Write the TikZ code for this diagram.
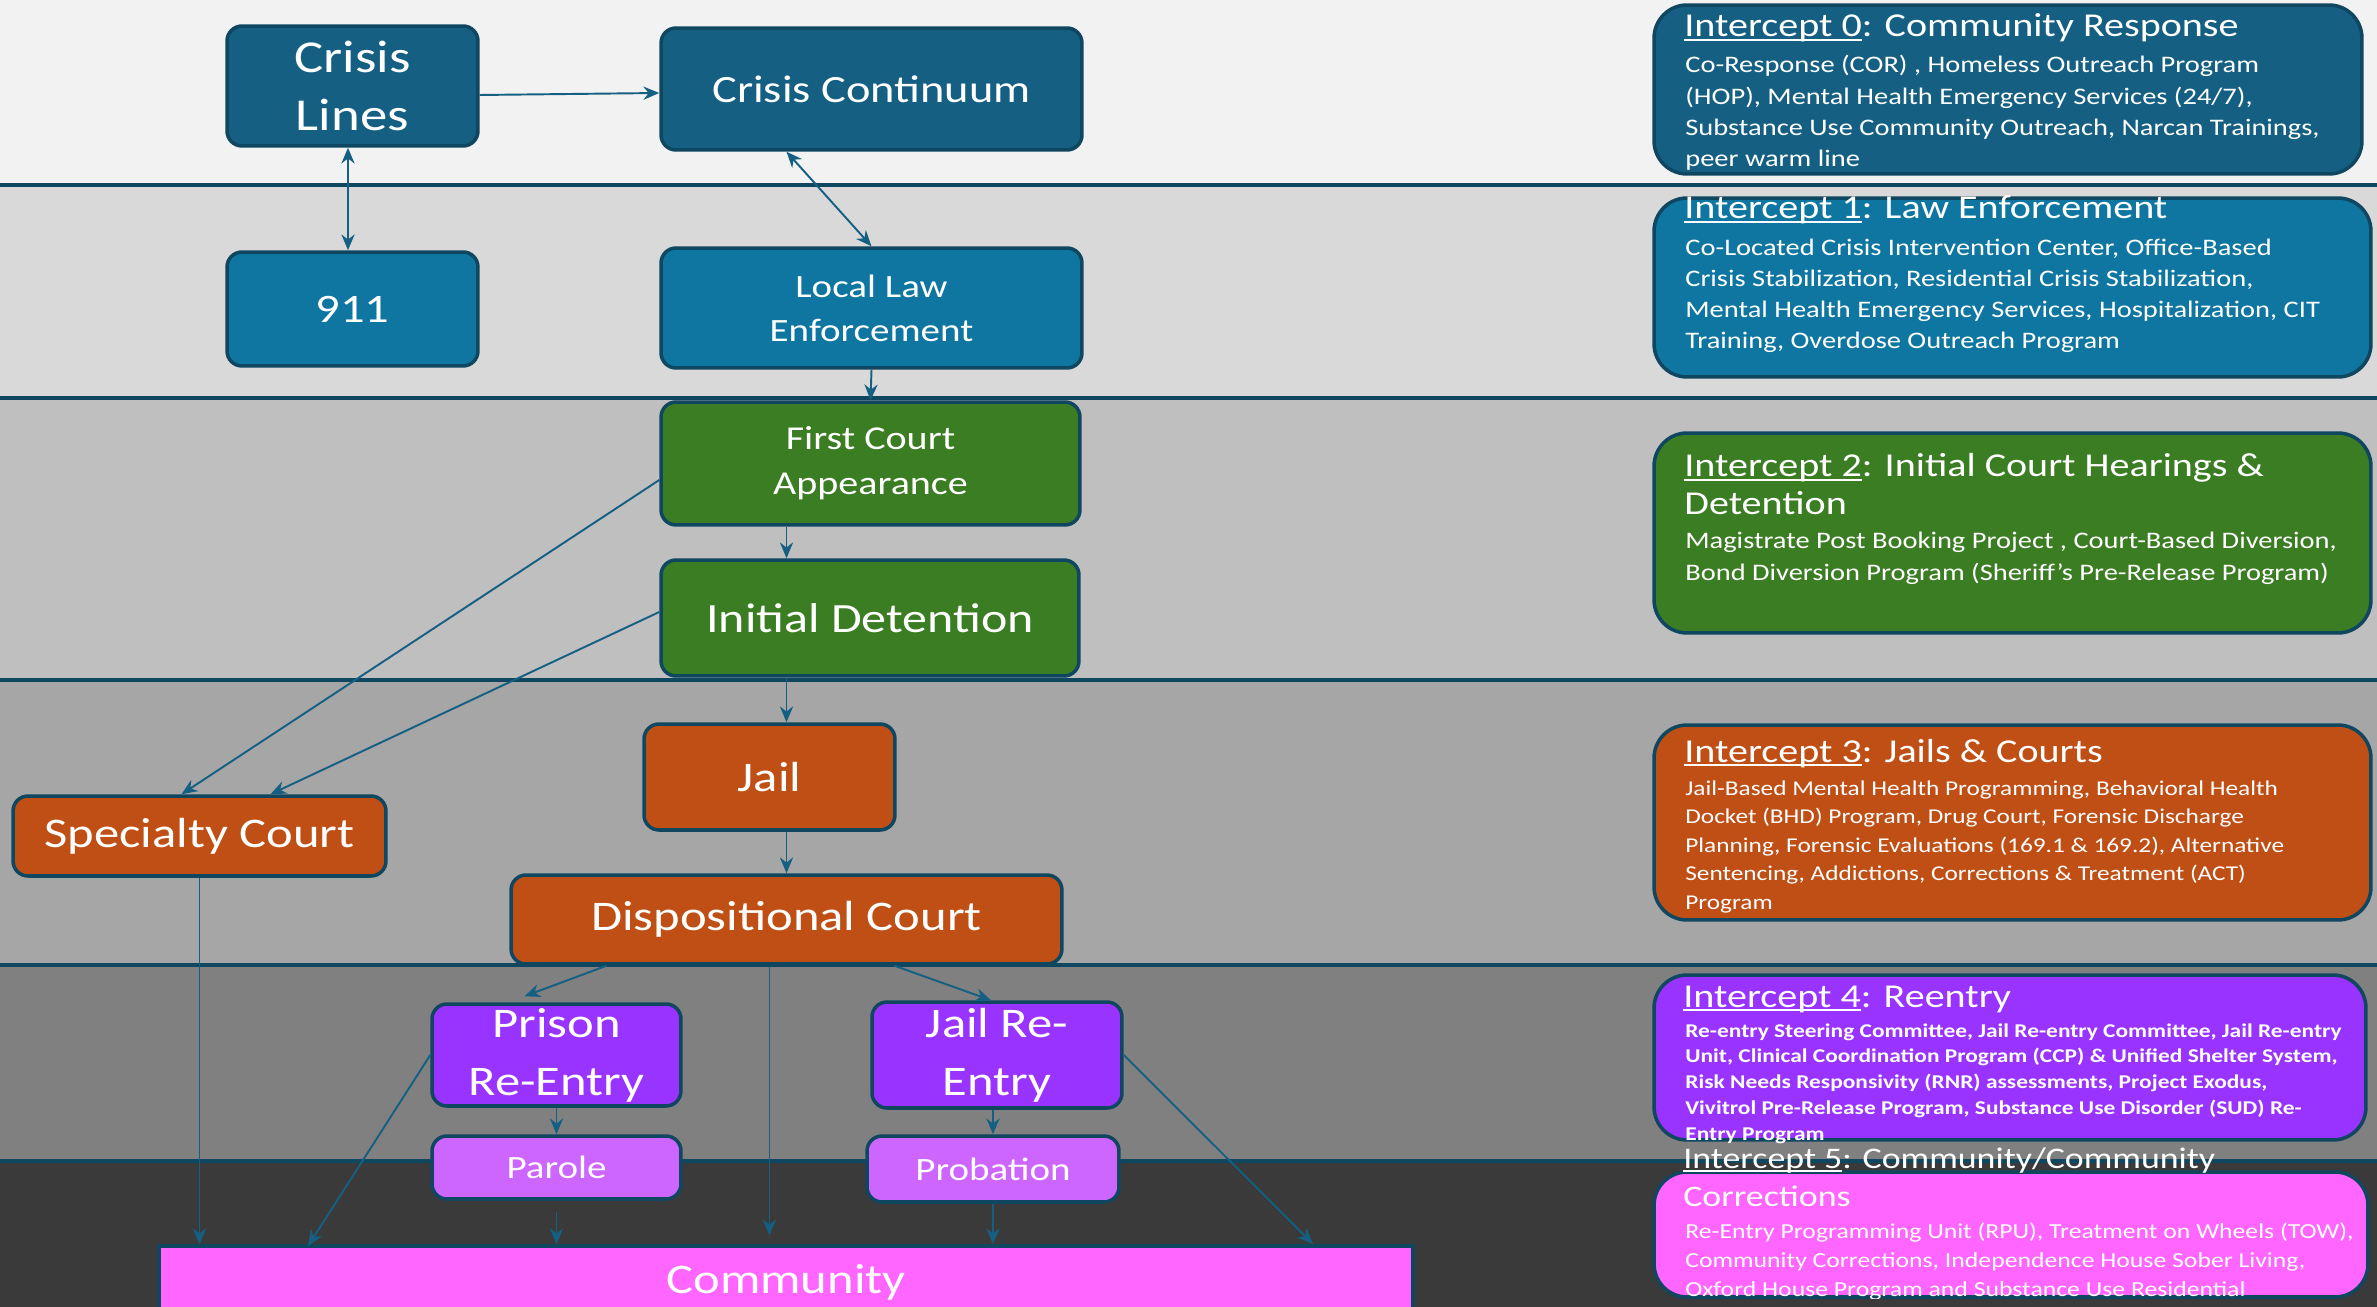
\documentclass[tikz,border=0pt]{standalone}
\usepackage{fontspec}
\setmainfont{Carlito}[FakeStretch=1.2]
\usetikzlibrary{arrows.meta}
\definecolor{bandline}{HTML}{0F4761}
\definecolor{tealdark}{HTML}{156082}
\definecolor{tealmid}{HTML}{0E76A0}
\definecolor{courtgreen}{HTML}{3B7D23}
\definecolor{jailorange}{HTML}{C04F15}
\definecolor{reentrypurple}{HTML}{9933FF}
\definecolor{parolelilac}{HTML}{CC66FF}
\definecolor{communitypink}{HTML}{FF66FF}
\definecolor{bandzero}{HTML}{F2F2F2}
\definecolor{bandone}{HTML}{D9D9D9}
\definecolor{bandtwo}{HTML}{BFBFBF}
\definecolor{bandthree}{HTML}{A6A6A6}
\definecolor{bandfour}{HTML}{808080}
\definecolor{bandfive}{HTML}{3A3A3A}
\newsavebox{\icptbox}
\newcommand{\icpt}[1]{\sbox{\icptbox}{Intercept #1}\rlap{\rule[-0.12em]{\wd\icptbox}{0.9pt}}\usebox{\icptbox}}
\begin{document}
\begin{tikzpicture}
[x=0.02cm,y=-0.02cm,
  flowdecorate/.style={shape=rectangle,rounded corners=0.3cm,draw=bandline,line width=2pt,text=white,align=center,inner sep=0pt},
  interceptdecorate/.style={shape=rectangle,rounded corners=0.66cm,draw=bandline,line width=2pt},
  arrowdecorate/.style={-{Stealth[length=9pt,width=7.5pt]},draw=tealdark,line width=1.1pt},
  bothdecorate/.style={{Stealth[length=9pt,width=7.5pt]}-{Stealth[length=9pt,width=7.5pt]},draw=tealdark,line width=1.1pt},
  titledecorate/.style={anchor=base west,inner sep=0pt,text=white,font=\fontsize{19}{21}\selectfont},
  textdecorate/.style={anchor=base west,inner sep=0pt,text=white,font=\fontsize{13.5}{17}\selectfont}]
\path[use as bounding box,clip] (0,0) rectangle (2377,1307);
%% bands
\foreach \col/\ya/\yb in {bandzero/0/185, bandone/185/398, bandtwo/398/680,
  bandthree/680/965, bandfour/965/1161, bandfive/1161/1307}
  \fill[\col] (0,\ya) rectangle (2377,\yb);
\foreach \yy in {185,398,680,965,1161}
  \draw[bandline,line width=2.4pt] (0,\yy) -- (2377,\yy);
%% nodes
\node[flowdecorate,fill=tealdark,minimum width=5.02cm,minimum height=2.4cm,
  font=\fontsize{26}{32.5}\selectfont] (crisislines) at (352.5,86) {Crisis\\Lines};
\node[flowdecorate,fill=tealdark,minimum width=8.42cm,minimum height=2.44cm,
  font=\fontsize{22}{26}\selectfont] (continuum) at (871.5,89) {Crisis Continuum};
\node[flowdecorate,fill=tealmid,minimum width=5.02cm,minimum height=2.28cm,
  font=\fontsize{23}{27}\selectfont] (nine) at (352.5,309) {911};
\node[flowdecorate,fill=tealmid,minimum width=8.42cm,minimum height=2.4cm,
  font=\fontsize{18.5}{25}\selectfont] (lawenf) at (871.5,308) {Local Law\\Enforcement};
\node[flowdecorate,fill=courtgreen,minimum width=8.38cm,minimum height=2.46cm,
  font=\fontsize{19}{25.8}\selectfont] (firstcourt) at (870.5,463.5) {First Court\\Appearance};
\node[flowdecorate,fill=courtgreen,minimum width=8.36cm,minimum height=2.32cm,
  font=\fontsize{23.7}{28}\selectfont] (initdet) at (870,618) {Initial Detention};
\node[flowdecorate,fill=jailorange,minimum width=5.02cm,minimum height=2.12cm,
  font=\fontsize{24}{28}\selectfont] (jail) at (769.5,777) {Jail};
\node[flowdecorate,fill=jailorange,minimum width=7.46cm,minimum height=1.6cm,
  font=\fontsize{24}{28}\selectfont] (specialty) at (199.5,836) {Specialty Court};
\node[flowdecorate,fill=jailorange,minimum width=11.02cm,minimum height=1.78cm,
  font=\fontsize{24}{28}\selectfont] (dispo) at (786.5,919.5) {Dispositional Court};
\node[flowdecorate,fill=reentrypurple,minimum width=4.98cm,minimum height=2.04cm,
  font=\fontsize{24}{33}\selectfont] (prison) at (556.5,1055) {Prison\\Re-Entry};
\node[flowdecorate,fill=reentrypurple,minimum width=5cm,minimum height=2.12cm,
  font=\fontsize{24}{33}\selectfont] (jailre) at (997,1055) {Jail Re-\\Entry};
\node[flowdecorate,fill=parolelilac,minimum width=4.98cm,minimum height=1.26cm,
  font=\fontsize{18.5}{22}\selectfont] (parole) at (556.5,1167.5) {Parole};
\node[flowdecorate,fill=parolelilac,minimum width=5.04cm,minimum height=1.32cm,
  font=\fontsize{18.5}{22}\selectfont] (probation) at (993,1169) {Probation};
\node[flowdecorate,rounded corners=0pt,fill=communitypink,minimum width=25.08cm,minimum height=1.44cm,
  font=\fontsize{24}{28}\selectfont] (community) at (786,1282) {Community};
\coordinate (reentryleft) at (308,1246);
\coordinate (reentryright) at (1313,1244);
%% edges
\draw[arrowdecorate] ([yshift=-0.18cm]crisislines.east) -- ([yshift=-0.08cm]continuum.west);
\draw[bothdecorate] ([xshift=-0.09cm]crisislines.south) -- ([xshift=-0.09cm]nine.north);
\draw[bothdecorate] ([xshift=-1.7cm]continuum.south) -- (lawenf.north);
\draw[arrowdecorate] (lawenf.south) -- (firstcourt.north);
\draw[arrowdecorate] (firstcourt.south -| dispo.north) -- (initdet.north -| dispo.north);
\draw[arrowdecorate] (initdet.south -| dispo.north) -- (jail.north -| dispo.north);
\draw[arrowdecorate] (jail.south -| dispo.north) -- (dispo.north);
\draw[arrowdecorate] ([yshift=-0.33cm]firstcourt.west) -- ([xshift=-0.36cm]specialty.north);
\draw[arrowdecorate] ([yshift=0.12cm]initdet.west) -- ([xshift=1.42cm]specialty.north);
\draw[arrowdecorate] (specialty.south) -- (specialty.south |- community.north);
\draw[arrowdecorate] ([xshift=-3.6cm]dispo.south) -- ([xshift=-0.64cm,yshift=0.12cm]prison.north);
\draw[arrowdecorate] ([xshift=2.16cm]dispo.south) -- ([xshift=-0.12cm]jailre.north);
\draw[arrowdecorate] (dispo.south -| jail.south) -- ([yshift=0.18cm]community.north -| jail.south);
\draw[arrowdecorate] (prison.south) -- (parole.north);
\draw[arrowdecorate] (jailre.south -| probation.north) -- (probation.north);
\draw[arrowdecorate,shorten <=0.22cm] (parole.south) -- (parole.south |- community.north);
\draw[arrowdecorate] (probation.south) -- (probation.south |- community.north);
\draw[arrowdecorate] (prison.west) -- (reentryleft);
\draw[arrowdecorate] (jailre.east) -- (reentryright);
%% intercept boxes
\node[interceptdecorate,fill=tealdark,minimum width=14.16cm,minimum height=3.38cm] (i0box) at (2008,89.5) {};
\node[interceptdecorate,fill=tealmid,minimum width=14.34cm,minimum height=3.58cm] (i1box) at (2012.5,287.5) {};
\node[interceptdecorate,fill=courtgreen,minimum width=14.34cm,minimum height=4cm] (i2box) at (2012.5,533) {};
\node[interceptdecorate,fill=jailorange,minimum width=14.34cm,minimum height=3.9cm] (i3box) at (2012.5,822.5) {};
\node[interceptdecorate,fill=reentrypurple,minimum width=14.24cm,minimum height=3.3cm] (i4box) at (2010,1057.5) {};
\node[interceptdecorate,fill=communitypink,minimum width=14.28cm,minimum height=2.5cm] (i5box) at (2011,1234.5) {};
%% intercept texts
\node[titledecorate] (i0title) at (1684,37) {\icpt{0}: Community Response};
\foreach \ln [count=\i from 0] in {{Co-Response (COR) , Homeless Outreach Program},
  {(HOP), Mental Health Emergency Services (24/7),},
  {Substance Use Community Outreach, Narcan Trainings,},{peer warm line}}
  \node[textdecorate] (i0line\i) at (1685,73+31.3*\i) {\ln};
\node[titledecorate] (i1title) at (1684,219) {\icpt{1}: Law Enforcement};
\foreach \ln [count=\i from 0] in {{Co-Located Crisis Intervention Center, Office-Based},
  {Crisis Stabilization, Residential Crisis Stabilization,},
  {Mental Health Emergency Services, Hospitalization, CIT},
  {Training, Overdose Outreach Program}}
  \node[textdecorate] (i1line\i) at (1685,256+30.7*\i) {\ln};
\node[titledecorate] (i2title) at (1684,477) {\icpt{2}: Initial Court Hearings \&};
\node[titledecorate] (i2titleb) at (1684,514) {Detention};
\foreach \ln [count=\i from 0] in {{Magistrate Post Booking Project , Court-Based Diversion,},
  {Bond Diversion Program (Sheriff’s Pre-Release Program)}}
  \node[textdecorate] (i2line\i) at (1685,548+32*\i) {\ln};
\node[titledecorate] (i3title) at (1684,762) {\icpt{3}: Jails \& Courts};
\foreach \ln [count=\i from 0] in {{Jail-Based Mental Health Programming, Behavioral Health},
  {Docket (BHD) Program, Drug Court, Forensic Discharge},
  {Planning, Forensic Evaluations (169.1 \& 169.2), Alternative},
  {Sentencing, Addictions, Corrections \& Treatment (ACT)},{Program}}
  \node[textdecorate,font=\fontsize{12}{15}\selectfont] (i3line\i) at (1685,795+28.5*\i) {\ln};
\node[titledecorate] (i4title) at (1683,1007) {\icpt{4}: Reentry};
\foreach \ln [count=\i from 0] in {{Re-entry Steering Committee, Jail Re-entry Committee, Jail Re-entry},
  {Unit, Clinical Coordination Program (CCP) \& Unified Shelter System,},
  {Risk Needs Responsivity (RNR) assessments, Project Exodus,},
  {Vivitrol Pre-Release Program, Substance Use Disorder (SUD) Re-},{Entry Program}}
  \node[textdecorate,font=\fontsize{11.1}{13}\selectfont\bfseries] (i4line\i) at (1685,1037+25.8*\i) {\ln};
\node[titledecorate,font=\fontsize{17}{20}\selectfont] (i5title) at (1683,1168) {\icpt{5}: Community/Community};
\node[titledecorate,font=\fontsize{17}{20}\selectfont] (i5titleb) at (1683,1206) {Corrections};
\begin{scope}
\clip (i5box.north west) rectangle (i5box.south east);
\foreach \ln [count=\i from 0] in {{Re-Entry Programming Unit (RPU), Treatment on Wheels (TOW),},
  {Community Corrections, Independence House Sober Living,},
  {Oxford House Program and Substance Use Residential}}
  \node[textdecorate,font=\fontsize{12.2}{15}\selectfont] (i5line\i) at (1685,1238+29*\i) {\ln};
\end{scope}
\end{tikzpicture}
\end{document}
